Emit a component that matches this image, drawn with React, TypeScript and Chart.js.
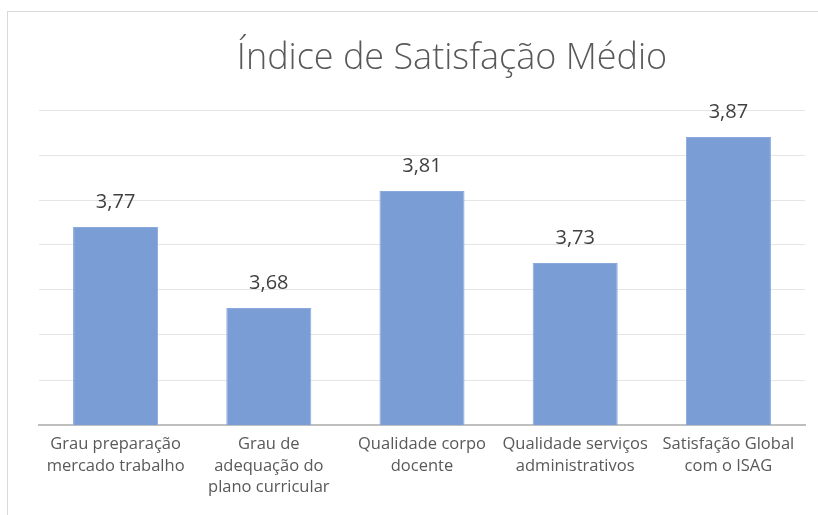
import React, { useEffect, useRef } from "react";
import { Chart, registerables } from "chart.js";

Chart.register(...registerables);

const titleText = "Índice de Satisfação Médio";
const categories: string[][] = [
  ["Grau preparação", "mercado trabalho"],
  ["Grau de", "adequação do", "plano curricular"],
  ["Qualidade corpo", "docente"],
  ["Qualidade serviços", "administrativos"],
  ["Satisfação Global", "com o ISAG"],
];
const values = [3.77, 3.68, 3.81, 3.73, 3.87];
const yMin = 3.55;
const yMax = 3.9;
const yStep = 0.05;

const FONT = "'Open Sans', 'Noto Sans', sans-serif";

const framePlugin = {
  id: "frame",
  beforeDraw(chart: any) {
    const ctx = chart.ctx;
    ctx.save();
    ctx.fillStyle = "#ffffff";
    ctx.fillRect(0, 0, chart.width, chart.height);
    ctx.strokeStyle = "#d9d9d9";
    ctx.lineWidth = 1;
    ctx.strokeRect(7.5, 11.5, chart.width + 50, chart.height + 50);
    ctx.restore();
  },
};

const titlePlugin = {
  id: "customTitle",
  afterDraw(chart: any) {
    const ctx = chart.ctx;
    ctx.save();
    ctx.fillStyle = "#595959";
    ctx.font = `300 36px ${FONT}`;
    ctx.textAlign = "center";
    ctx.textBaseline = "alphabetic";
    const { left, right } = chart.chartArea;
    ctx.fillText(titleText, (left + right) / 2 + 30, 69);
    ctx.restore();
  },
};

const labelPlugin = {
  id: "barLabels",
  afterDatasetsDraw(chart: any) {
    const ctx = chart.ctx;
    const meta = chart.getDatasetMeta(0);
    ctx.save();
    ctx.fillStyle = "#404040";
    ctx.font = `20px ${FONT}`;
    ctx.textAlign = "center";
    ctx.textBaseline = "alphabetic";
    meta.data.forEach((el: any, i: number) => {
      const v = chart.data.datasets[0].data[i] as number;
      ctx.fillText(v.toFixed(2).replace(".", ","), el.x, el.y - 19);
    });
    ctx.restore();
  },
};

export default function App() {
  const ref = useRef<HTMLCanvasElement | null>(null);
  useEffect(() => {
    if (!ref.current) return;
    const chart = new Chart(ref.current, {
      type: "bar",
      data: {
        labels: categories,
        datasets: [
          {
            data: values,
            backgroundColor: "#7b9dd6",
            borderColor: "#8aa9dc",
            borderWidth: 1,
            categoryPercentage: 1,
            barPercentage: 0.555,
          },
        ],
      },
      options: {
        animation: false,
        responsive: false,
        layout: { padding: { left: 39, right: 13, top: 110, bottom: 0 } },
        plugins: { legend: { display: false }, tooltip: { enabled: false }, title: { display: false } },
        scales: {
          x: {
            grid: { display: false },
            border: { display: true, color: "#bfbfbf", width: 2 },
            ticks: {
              autoSkip: false,
              maxRotation: 0,
              minRotation: 0,
              color: "#595959",
              font: { family: FONT, size: 16.5, lineHeight: 1.3 },
              padding: 1,
            },
            afterFit(scale: any) {
              scale.height = 90;
            },
          },
          y: {
            min: yMin,
            max: yMax,
            ticks: { display: false, stepSize: yStep },
            border: { display: false },
            grid: {
              drawTicks: false,
              color: (c: any) => (c.tick && Math.abs(c.tick.value - yMin) < 1e-6 ? "rgba(0,0,0,0)" : "#e5e5e5"),
            },
            afterFit(scale: any) {
              scale.width = 0;
            },
          },
        },
      },
      plugins: [framePlugin, titlePlugin, labelPlugin],
    });
    return () => chart.destroy();
  }, []);
  return (
    <div style={{ position: "absolute", left: 0, top: 0, width: 818, height: 515 }}>
      <canvas ref={ref} width={818} height={515} style={{ display: "block" }} />
    </div>
  );
}
